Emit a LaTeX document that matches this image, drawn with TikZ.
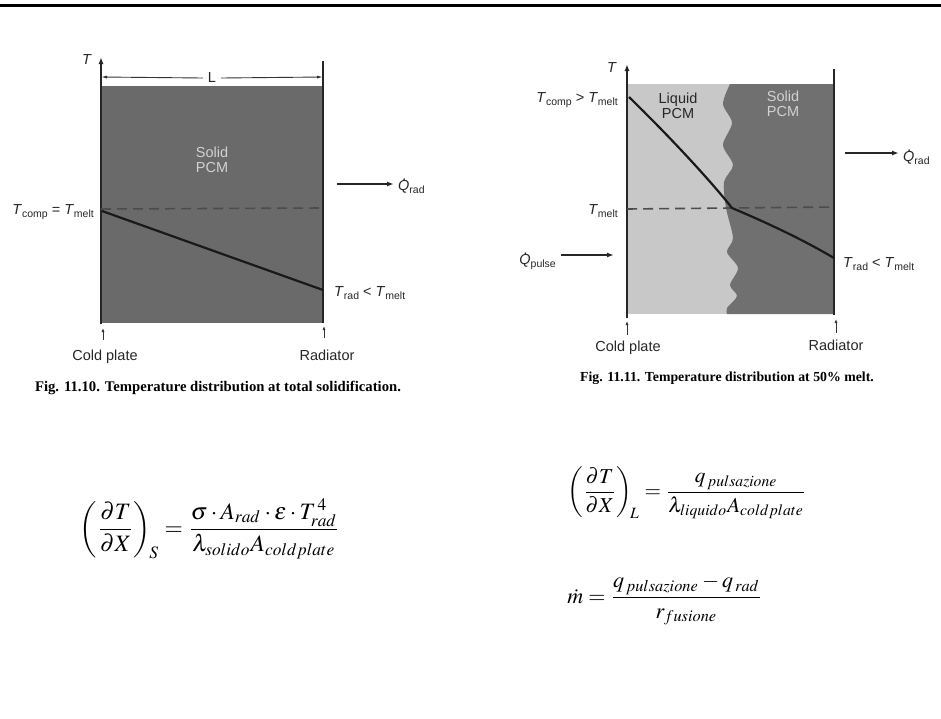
\documentclass[tikz,border=0pt]{standalone}
\usepackage{mathptmx}
\usepackage[no-math]{fontspec}
\setmainfont{Liberation Serif}
\setsansfont{Liberation Sans}
\usetikzlibrary{arrows.meta}
\definecolor{pcmdark}{HTML}{6A6A6A}
\definecolor{pcmliq}{HTML}{C8C8C8}
\definecolor{pcmsol}{HTML}{707070}
\definecolor{pcmtext}{HTML}{D2D2D2}
\newcommand\lsub[1]{\raisebox{-0.35ex}{\fontsize{10.5}{10.5}\selectfont #1}}
\newcommand\TT[1]{\textit{T}\lsub{#1}}
\newcommand\Qd{\makebox[0pt][l]{\hspace{0.32em}\raisebox{0.7em}{\textit{.}}}\textit{Q}}
\newcommand\QQ[1]{\Qd\lsub{#1}}
\begin{document}
\begin{tikzpicture}[x=1pt,y=-1pt,
  lab/.style={font=\sffamily\fontsize{14.5}{14.5}\selectfont, inner sep=0pt, text=black!85},
  caption/.style={font=\rmfamily\bfseries\fontsize{#1}{#1}\selectfont, inner sep=0pt},
  axisline/.style={line width=1.8pt, draw=black!85},
  dashline/.style={line width=1.6pt, draw=black!70, dash pattern=on 10pt off 6pt},
  templine/.style={line width=2.2pt, draw=black!90},
  flow/.style={line width=1.4pt, draw=black!85, -{Latex[length=7pt,width=5pt]}},
  tinyarrow/.style={line width=0.8pt, draw=black!80, -{Latex[length=4pt,width=3pt]}},
  dimline/.style={line width=0.9pt, draw=black!80, -{Latex[length=6pt,width=3pt]}},
  eq/.style={inner sep=0pt}]
\useasboundingbox (0,0) rectangle (941,718);
\draw[line width=3pt] (0,5) -- (941,5);

% ---------------- left figure ----------------
\fill[pcmdark] (101,86) rectangle (323,323);
\node[lab] (T1) at (87,60) {\textit{T}};
\coordinate (ax1b) at (101,324);
\coordinate (ax1t) at (101,57);
\draw[axisline,-{Latex[length=7pt,width=5pt]}] (ax1b) -- (ax1t);
\coordinate (r1t) at (323,61);
\coordinate (r1b) at (323,323);
\draw[axisline] (r1t) -- (r1b);
\node[lab, inner xsep=5pt] (L1) at (212,78) {L};
\coordinate (L1a) at (101,77);
\coordinate (L1b) at (323,77);
\draw[dimline] (L1.west) -- (L1a);
\draw[dimline] (L1.east) -- (L1b);
\node[lab, text=pcmtext, align=center] (sp1) at (212,160) {Solid\\PCM};
\coordinate (d1a) at (101,209);
\coordinate (d1b) at (323,208);
\draw[dashline] (d1a) -- (d1b);
\coordinate (t1a) at (102,211);
\coordinate (t1b) at (323,290);
\draw[templine] (t1a) -- (t1b);
\node[lab, anchor=east] (tc1) at (94,212) {\TT{comp} = \TT{melt}};
\node[lab, anchor=west] (tr1) at (334,293) {\TT{rad} < \TT{melt}};
\node[lab, anchor=west] (q1) at (398,186) {\QQ{rad}};
\coordinate (q1tail) at (337,184);
\coordinate (q1tip) at (394,184);
\draw[flow] (q1tail) -- (q1tip);
\node[lab] (cp1) at (105,357) {Cold plate};
\coordinate (cp1tail) at (103,340);
\coordinate (cp1tip) at (103,328);
\draw[tinyarrow] (cp1tail) -- (cp1tip);
\node[lab] (rd1) at (327,355) {Radiator};
\coordinate (rd1tail) at (324,338);
\coordinate (rd1tip) at (324,326);
\draw[tinyarrow] (rd1tail) -- (rd1tip);
\node[caption=14.7] (c1) at (218,388) {Fig. 11.10. Temperature distribution at total solidification.};

% ---------------- right figure ----------------
\fill[pcmliq] (627,84) rectangle (834,314);
\fill[pcmsol] (834,84) -- plot[smooth] coordinates {(730,84) (723,104) (732,123) (723,145) (733,165) (724,182) (726,208) (733,238) (727,252) (738,268) (730,285) (737,296) (727,308) (727,314)} -- (834,314) -- cycle;
\node[lab] (T2) at (612,68) {\textit{T}};
\coordinate (ax2b) at (627,318);
\coordinate (ax2t) at (627,64);
\draw[axisline,-{Latex[length=7pt,width=5pt]}] (ax2b) -- (ax2t);
\coordinate (r2t) at (834,69);
\coordinate (r2b) at (834,315);
\draw[axisline] (r2t) -- (r2b);
\node[lab, align=center] (lp2) at (678,106) {Liquid\\PCM};
\node[lab, text=pcmtext, align=center] (sp2) at (783,104) {Solid\\PCM};
\coordinate (d2a) at (627,209);
\coordinate (d2b) at (834,207);
\draw[dashline] (d2a) -- (d2b);
\coordinate (t2a) at (629,97);
\coordinate (t2m) at (732,208);
\coordinate (t2b) at (834,258);
\draw[templine] (t2a) .. controls (668,135) and (710,180) .. (t2m) .. controls (765,222) and (800,238) .. (t2b);
\node[lab, anchor=east] (tc2) at (618,100) {\TT{comp} > \TT{melt}};
\node[lab, anchor=east] (tm2) at (618,211) {\TT{melt}};
\node[lab, anchor=east] (qp2) at (556,261) {\QQ{pulse}};
\coordinate (qp2tail) at (561,255);
\coordinate (qp2tip) at (614,255);
\draw[flow] (qp2tail) -- (qp2tip);
\node[lab, anchor=west] (q2) at (903,157) {\QQ{rad}};
\coordinate (q2tail) at (845,153);
\coordinate (q2tip) at (899,153);
\draw[flow] (q2tail) -- (q2tip);
\node[lab, anchor=west] (tr2) at (843,264) {\TT{rad} < \TT{melt}};
\node[lab] (cp2) at (628,348) {Cold plate};
\coordinate (cp2tail) at (627,335);
\coordinate (cp2tip) at (627,321);
\draw[tinyarrow] (cp2tail) -- (cp2tip);
\node[lab] (rd2) at (836,345) {Radiator};
\coordinate (rd2tail) at (836,333);
\coordinate (rd2tip) at (836,319);
\draw[tinyarrow] (rd2tail) -- (rd2tip);
\node[caption=13.8] (c2) at (727,378) {Fig. 11.11. Temperature distribution at 50\% melt.};

% ---------------- equations ----------------
\node[eq] (eqS) at (210,529) {\resizebox{260pt}{!}{$\displaystyle \left(\frac{\partial T}{\partial X}\right)_{\!S} = \frac{\sigma\cdot A_{rad}\cdot\varepsilon\cdot T_{rad}^{\,4}}{\lambda_{solido}A_{coldplate}}$}};
\node[eq] (eqL) at (687,493) {\resizebox{239pt}{!}{$\displaystyle \left(\frac{\partial T}{\partial X}\right)_{\!L} = \frac{q_{\,pulsazione}}{\lambda_{liquido}A_{coldplate}}$}};
\node[eq] (eqM) at (665,600) {\resizebox{195pt}{!}{$\displaystyle \dot m = \frac{q_{\,pulsazione}-q_{\,rad}}{r_{fusione}}$}};
\end{tikzpicture}
\end{document}
